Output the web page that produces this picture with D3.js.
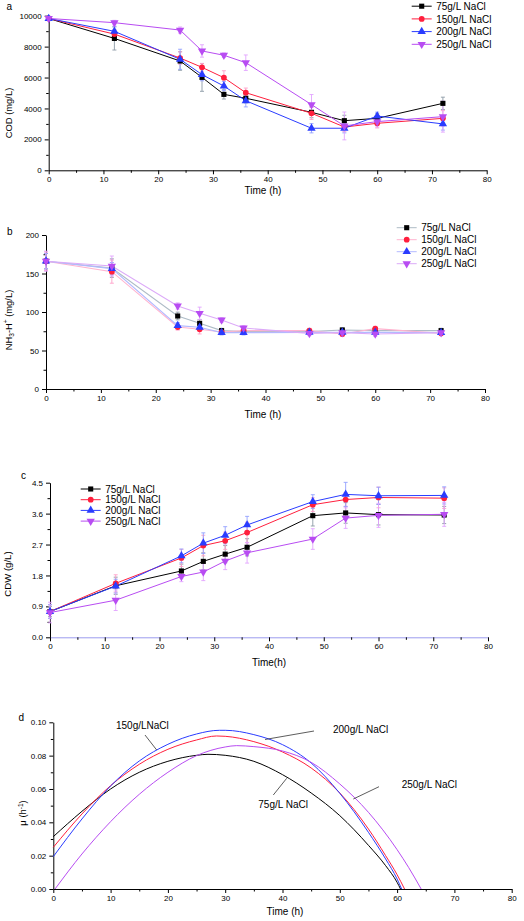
<!DOCTYPE html>
<html>
<head>
<meta charset="utf-8">
<script src="https://cdn.jsdelivr.net/npm/d3@7"></script>
<style>
body{margin:0;background:#fff;}
svg{display:block;font-family:"Liberation Sans",Arial,sans-serif;}
</style>
</head>
<body>
<svg id="chart" width="524" height="921"></svg>
<script>
// ---------- DATA ----------
const seriesNames = ["75g/L NaCl", "150g/L NaCl", "200g/L NaCl", "250g/L NaCl"];
const times = [0, 12, 24, 28, 32, 36, 48, 54, 60, 72];

// Panel a: COD (mg/L)
const cod75  = [9820, 8530, 7070, 6010, 4910, 4660, 3750, 3210, 3360, 4330];
const cod150 = [9820, 8810, 7260, 6660, 5990, 5020, 3690, 2800, 3040, 3360];
const cod200 = [9820, 8990, 7180, 6190, 5450, 4500, 2720, 2720, 3510, 3000];
const cod250 = [9820, 9550, 9070, 7720, 7440, 6960, 4250, 2870, 3150, 3470];
const codErr75  = [100, 750, 600, 900, 300, 300, 350, 350, 300, 400];
const codErr150 = [100, 300, 400, 250, 450, 300, 400, 300, 300, 500];
const codErr200 = [100, 300, 650, 400, 300, 400, 300, 300, 250, 400];
const codErr250 = [100, 150, 200, 400, 150, 500, 650, 900, 350, 1000];

// Panel b: NH3-H+ (mg/L)
const nh75  = [166, 157, 94.8, 85.3, 75.8, 74.5, 74.5, 76.6, 75.8, 75.8];
const nh150 = [166, 152.4, 80.5, 77.5, 74.0, 75.8, 75.8, 71.4, 78.4, 72.3];
const nh200 = [166, 156.3, 82.3, 80.1, 73.2, 73.2, 73.6, 73.6, 73.6, 73.2];
const nh250 = [166, 159.7, 107.8, 98.3, 89.6, 79.2, 72.3, 73.2, 71.4, 73.2];
const nhErr75  = [10, 12, 5, 5, 3, 3, 3, 3, 3, 3];
const nhErr150 = [12, 15, 4, 6, 3, 3, 3, 3, 3, 3];
const nhErr200 = [10, 8, 4, 4, 3, 3, 3, 3, 3, 3];
const nhErr250 = [13, 13, 4, 8, 3, 3, 3, 3, 3, 3];

// Panel c: CDW (g/L)
const cdw75  = [0.75, 1.50, 1.93, 2.21, 2.42, 2.62, 3.54, 3.62, 3.57, 3.56];
const cdw150 = [0.75, 1.57, 2.31, 2.67, 2.81, 3.05, 3.86, 4.01, 4.07, 4.05];
const cdw200 = [0.75, 1.49, 2.37, 2.74, 2.97, 3.27, 3.95, 4.16, 4.12, 4.13];
const cdw250 = [0.72, 1.08, 1.77, 1.90, 2.22, 2.46, 2.86, 3.47, 3.55, 3.58];
const cdwErr75  = [0.15, 0.25, 0.20, 0.25, 0.25, 0.25, 0.30, 0.30, 0.30, 0.25];
const cdwErr150 = [0.20, 0.25, 0.25, 0.30, 0.25, 0.30, 0.20, 0.20, 0.30, 0.30];
const cdwErr200 = [0.20, 0.20, 0.20, 0.30, 0.25, 0.25, 0.20, 0.35, 0.25, 0.25];
const cdwErr250 = [0.30, 0.30, 0.15, 0.25, 0.25, 0.30, 0.30, 0.30, 0.35, 0.35];

// Panel d: specific growth rate mu (h^-1)
const muT75  = [0, 5, 10, 15, 20, 25, 27, 30, 35, 40, 45, 50, 55, 58, 60, 60.6];
const mu75   = [0.0314, 0.0466, 0.0600, 0.0700, 0.0766, 0.0802, 0.0808, 0.0802, 0.0766, 0.0686, 0.0576, 0.0440, 0.0262, 0.0140, 0.0040, 0];
const muT150 = [0, 5, 10, 15, 20, 25, 28.5, 30, 35, 40, 45, 50, 55, 58, 60, 61.3];
const mu150  = [0.0250, 0.0450, 0.0620, 0.0748, 0.0838, 0.0894, 0.0918, 0.0916, 0.0884, 0.0822, 0.0726, 0.0576, 0.0360, 0.0200, 0.0086, 0];
const muT200 = [0, 5, 10, 15, 20, 25, 29, 30, 35, 40, 45, 50, 55, 58, 60, 60.8];
const mu200  = [0.0194, 0.0420, 0.0618, 0.0768, 0.0868, 0.0930, 0.0952, 0.0952, 0.0926, 0.0866, 0.0756, 0.0574, 0.0340, 0.0180, 0.0060, 0];
const muT250 = [0.3, 5, 10, 15, 20, 25, 30, 32, 35, 40, 45, 50, 55, 60, 62, 64.2];
const mu250  = [0, 0.0210, 0.0404, 0.0568, 0.0700, 0.0800, 0.0852, 0.0860, 0.0854, 0.0828, 0.0760, 0.0630, 0.0460, 0.0236, 0.0130, 0];

// Tick values
const timeTicks = [0, 10, 20, 30, 40, 50, 60, 70, 80];
const codTicks = [0, 2000, 4000, 6000, 8000, 10000];
const nhTicks = [0, 50, 100, 150, 200];
const cdwTicks = [0, 0.9, 1.8, 2.7, 3.6, 4.5];
const muTicks = [0, 0.02, 0.04, 0.06, 0.08, 0.10];

// ---------- STYLE ----------
const colors = ["#000000", "#ff1f3d", "#2a3cff", "#b84cf2"];
const errColors = ["#8c9aa6", "#ff9fc8", "#93a0ff", "#e2a4ff"];
const lightLine = ["#aebcc6", "#ffb3cf", "#b3b9ff", "#dcaaf8"];
const symbols = [d3.symbolSquare, d3.symbolCircle, d3.symbolTriangle, d3.symbolTriangle];
const symSizes = [26, 26, 30, 30];
const symRot = [0, 0, 0, 180];

const svg = d3.select("#chart");

function drawAxes(g, x, y, xt, yt, yFmt, minorX, minorY, box, xAxisColor) {
  const xa = g.append("g").attr("transform", `translate(0,${box.y1})`)
    .call(d3.axisBottom(x).tickValues(xt).tickSize(4).tickPadding(2).tickSizeOuter(0));
  g.append("g").attr("transform", `translate(0,${box.y1})`)
    .call(d3.axisBottom(x).tickValues(minorX).tickSize(2.5).tickFormat("").tickSizeOuter(0))
    .select(".domain").remove();
  const ya = g.append("g").attr("transform", `translate(${box.x0},0)`)
    .call(d3.axisLeft(y).tickValues(yt).tickFormat(yFmt).tickSize(4).tickPadding(3).tickSizeOuter(0));
  g.append("g").attr("transform", `translate(${box.x0},0)`)
    .call(d3.axisLeft(y).tickValues(minorY).tickSize(2.5).tickFormat("").tickSizeOuter(0))
    .select(".domain").remove();
  g.selectAll(".tick text").attr("font-size", 8).attr("fill", "#000")
    .attr("font-family", "'Liberation Sans',Arial,sans-serif");
  g.selectAll(".domain, .tick line").attr("stroke", "#000").attr("stroke-width", 1);
  if (xAxisColor) xa.select(".domain").attr("stroke", xAxisColor);
}

function marker(sel, i, cx, cy) {
  sel.append("path")
    .attr("d", d3.symbol().type(symbols[i]).size(symSizes[i])())
    .attr("transform", `translate(${cx},${cy}) rotate(${symRot[i]})`)
    .attr("fill", colors[i]);
}

function drawPointPanel(p) {
  const g = svg.append("g");
  const x = d3.scaleLinear().domain([0, 80]).range([p.box.x0, p.box.x1]);
  const y = d3.scaleLinear().domain(p.yDomain).range([p.box.y1, p.box.y0]);
  drawAxes(g, x, y, timeTicks, p.yTicks, p.yFmt, d3.range(5, 80, 10), p.minorY, p.box, p.xAxisColor);
  const line = d3.line().x((d, k) => x(times[k])).y(d => y(d));
  // error bars
  p.series.forEach((vals, i) => {
    const err = p.errors[i];
    vals.forEach((v, k) => {
      const cx = x(times[k]);
      const eg = g.append("g").attr("stroke", errColors[i]).attr("stroke-width", 0.9);
      eg.append("line").attr("x1", cx).attr("x2", cx).attr("y1", y(v - err[k])).attr("y2", y(v + err[k]));
      eg.append("line").attr("x1", cx - 2).attr("x2", cx + 2).attr("y1", y(v - err[k])).attr("y2", y(v - err[k]));
      eg.append("line").attr("x1", cx - 2).attr("x2", cx + 2).attr("y1", y(v + err[k])).attr("y2", y(v + err[k]));
    });
  });
  p.series.forEach((vals, i) => {
    g.append("path").attr("d", line(vals)).attr("fill", "none")
      .attr("stroke", p.light ? lightLine[i] : colors[i]).attr("stroke-width", p.light ? 1.1 : 1);
  });
  p.series.forEach((vals, i) => {
    vals.forEach((v, k) => marker(g, i, x(times[k]), y(v)));
  });
  // legend
  seriesNames.forEach((name, i) => {
    const ly = p.leg.y + i * p.leg.dy;
    g.append("line").attr("x1", p.leg.x).attr("x2", p.leg.x + 20).attr("y1", ly).attr("y2", ly)
      .attr("stroke", p.light ? lightLine[i] : colors[i]).attr("stroke-width", 1);
    marker(g, i, p.leg.x + 10, ly);
    g.append("text").attr("x", p.leg.x + 24.5).attr("y", ly + 3.6).attr("font-size", 10)
      .text(name);
  });
  // titles
  g.append("text").attr("x", p.xt.x).attr("y", p.xt.y).attr("text-anchor", "middle")
    .attr("font-size", 10).text(p.xTitle);
  const yt = g.append("text").attr("transform", `translate(${p.yt.x},${p.yt.y}) rotate(-90)`)
    .attr("text-anchor", "middle").attr("font-size", p.yt.fs);
  p.yTitle(yt);
  g.append("text").attr("x", p.letter.x).attr("y", p.letter.y).attr("font-size", 10).text(p.letter.t);
}

// Panel a
drawPointPanel({
  box: {x0: 48.7, x1: 486.7, y0: 15.7, y1: 170.3},
  yDomain: [0, 10000], yTicks: codTicks, yFmt: d3.format("d"),
  minorY: d3.range(1000, 10000, 2000),
  series: [cod75, cod150, cod200, cod250],
  errors: [codErr75, codErr150, codErr200, codErr250],
  light: false,
  leg: {x: 411.7, y: 6.2, dy: 12.7},
  xTitle: "Time (h)", xt: {x: 263, y: 194},
  yt: {x: 11.5, y: 113, fs: 9.4}, yTitle: t => t.text("COD (mg/L)"),
  letter: {x: 6.5, y: 9.5, t: "a"}
});

// Panel b
drawPointPanel({
  box: {x0: 46, x1: 485, y0: 235, y1: 389},
  yDomain: [0, 200], yTicks: nhTicks, yFmt: d3.format("d"),
  minorY: d3.range(25, 200, 50),
  series: [nh75, nh150, nh200, nh250],
  errors: [nhErr75, nhErr150, nhErr200, nhErr250],
  light: true,
  leg: {x: 396.7, y: 227.7, dy: 12},
  xTitle: "Time (h)", xt: {x: 263, y: 418},
  yt: {x: 11.5, y: 320, fs: 9.4},
  yTitle: t => {
    t.append("tspan").text("NH");
    t.append("tspan").attr("font-size", 6.5).attr("dy", 2.5).text("3");
    t.append("tspan").attr("dy", -2.5).text("-H");
    t.append("tspan").attr("font-size", 6.5).attr("dy", -3.5).text("+");
    t.append("tspan").attr("dy", 3.5).text(" (mg/L)");
  },
  letter: {x: 7, y: 235, t: "b"}
});

// Panel c
drawPointPanel({
  box: {x0: 50, x1: 488, y0: 482.7, y1: 637.3},
  yDomain: [0, 4.5], yTicks: cdwTicks, yFmt: d3.format(".1f"),
  minorY: d3.range(0.45, 4.5, 0.9),
  series: [cdw75, cdw150, cdw200, cdw250],
  errors: [cdwErr75, cdwErr150, cdwErr200, cdwErr250],
  light: false,
  xAxisColor: "#9c9cee",
  leg: {x: 80.7, y: 489, dy: 10.7},
  xTitle: "Time(h)", xt: {x: 269, y: 666},
  yt: {x: 11, y: 574, fs: 9.6}, yTitle: t => t.text("CDW (g/L)"),
  letter: {x: 21, y: 479, t: "c"}
});

// Panel d
(function () {
  const box = {x0: 53.3, x1: 511.7, y0: 722.3, y1: 889};
  const g = svg.append("g");
  const x = d3.scaleLinear().domain([0, 80]).range([box.x0, box.x1]);
  const y = d3.scaleLinear().domain([0, 0.10]).range([box.y1, box.y0]);
  drawAxes(g, x, y, timeTicks, muTicks, d3.format(".2f"), d3.range(5, 80, 10), d3.range(0.01, 0.1, 0.02), box);
  const curves = [[muT75, mu75], [muT150, mu150], [muT200, mu200], [muT250, mu250]];
  const line = d3.line().curve(d3.curveMonotoneX).x(d => x(d[0])).y(d => y(d[1]));
  curves.forEach((c, i) => {
    g.append("path").attr("d", line(c[0].map((t, k) => [t, c[1][k]])))
      .attr("fill", "none").attr("stroke", colors[i]).attr("stroke-width", 1);
  });
  const notes = [
    {t: "150g/LNaCl", tx: 116, ty: 729, l: [145, 735, 156.7, 750]},
    {t: "200g/L NaCl", tx: 333, ty: 733, l: [314, 731, 265, 739.5]},
    {t: "250g/L NaCl", tx: 401.7, ty: 788, l: [379, 786.7, 353.3, 799]},
    {t: "75g/L NaCl", tx: 258.3, ty: 808, l: [286.7, 778.3, 273.3, 795]}
  ];
  notes.forEach(n => {
    g.append("text").attr("x", n.tx).attr("y", n.ty).attr("font-size", 10).text(n.t);
    g.append("line").attr("x1", n.l[0]).attr("y1", n.l[1]).attr("x2", n.l[2]).attr("y2", n.l[3])
      .attr("stroke", "#333").attr("stroke-width", 0.8);
  });
  g.append("text").attr("x", 285).attr("y", 915).attr("text-anchor", "middle")
    .attr("font-size", 10).text("Time (h)");
  const yt = g.append("text").attr("transform", "translate(26,813) rotate(-90)")
    .attr("text-anchor", "middle").attr("font-size", 9.4);
  yt.append("tspan").text("μ (h");
  yt.append("tspan").attr("font-size", 6.5).attr("dy", -3.5).text("-1");
  yt.append("tspan").attr("dy", 3.5).text(")");
  g.append("text").attr("x", 18.5).attr("y", 720.7).attr("font-size", 10).text("d");
})();
</script>
</body>
</html>
